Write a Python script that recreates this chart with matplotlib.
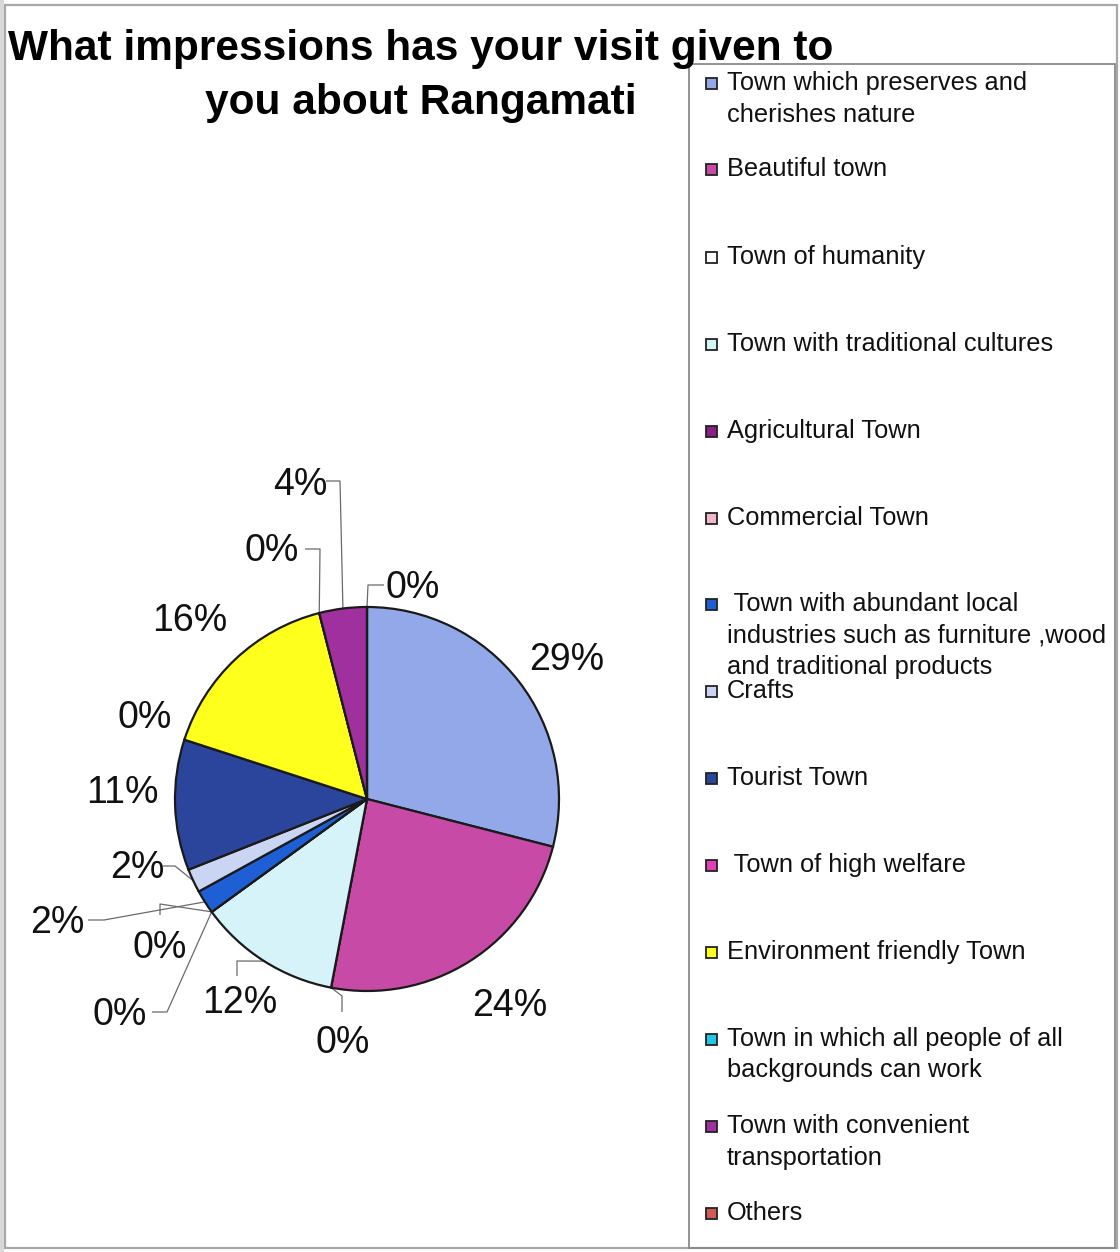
import numpy as np
import matplotlib
matplotlib.use("Agg")
import matplotlib.pyplot as plt
from matplotlib.patches import Rectangle

plt.rcParams['font.family'] = ['Liberation Sans', 'DejaVu Sans']

# ---- data ----
categories = [
    "Town which preserves and\ncherishes nature",
    "Beautiful town",
    "Town of humanity",
    "Town with traditional cultures",
    "Agricultural Town",
    "Commercial Town",
    " Town with abundant local\nindustries such as furniture ,wood\nand traditional products",
    "Crafts",
    "Tourist Town",
    " Town of high welfare",
    "Environment friendly Town",
    "Town in which all people of all\nbackgrounds can work",
    "Town with convenient\ntransportation",
    "Others",
]
shares = [29, 24, 0, 12, 0, 0, 2, 2, 11, 0, 16, 0, 4, 0]
colors = ["#92A8E8", "#C64AA6", "#FFFFFF", "#D5F3F8", "#8A1F84", "#F4B6C8",
          "#1F5FD6", "#C9D5F2", "#2B459C", "#E03FB5", "#FFFF1E", "#24C6E8",
          "#A0309E", "#CF5A5A"]
title_lines = ["What impressions has your visit given to", "you about Rangamati"]

# ---- layout (figure pixels, y measured from top) ----
W, H = 1120, 1252
CX, CY, R = 367, 799, 192
label_pos = [(567, 657), (510, 1003), (343, 1040), (240, 1000), (120, 1012),
             (160, 945), (57, 920), (137, 865), (122, 790), (145, 715),
             (190, 618), (272, 548), (300, 482), (413, 585)]
# leader lines: label anchor -> elbow -> wedge rim
leaders = {
    2: [(342, 1012), (342, 996)],
    3: [(237, 976), (237, 961)],
    4: [(152, 1012), (167, 1012)],
    5: [(160, 915), (160, 904)],
    6: [(88, 920), (104, 920)],
    7: [(163, 866), (175, 866)],
    11: [(305, 549), (320, 549)],
    12: [(326, 481), (340, 481)],
    13: [(384, 585), (368, 585)],
}
legend_y = [81, 167, 255, 342, 429, 516, 602, 689, 776, 863, 950, 1037, 1124, 1211]
legend_line_gap = 31.5

fig = plt.figure(figsize=(W / 100, H / 100), dpi=100)
fig.patch.set_facecolor("white")

# overlay axes in pixel units for frames, title and legend
ov = fig.add_axes([0, 0, 1, 1])
ov.set_xlim(0, W)
ov.set_ylim(H, 0)
ov.axis("off")

# outer chart frame and legend box
ov.add_patch(Rectangle((5, 5), 1112, 1243, fill=False, edgecolor="#a8a8a8", lw=1.6, zorder=1))
ov.add_patch(Rectangle((0, 0), 4, H, color="#d8d8d8", lw=0, zorder=1))
ov.add_patch(Rectangle((689, 64), 426, 1184, fill=False, edgecolor="#8a8a8a", lw=1.3, zorder=1))

# title
for i, line in enumerate(title_lines):
    ov.text(421, 60 + i * 54, line, fontsize=30.5, fontweight="bold",
            ha="center", va="baseline", color="black", zorder=5)

# legend
for i, (name, col) in enumerate(zip(categories, colors)):
    yc = legend_y[i]
    ov.add_patch(Rectangle((705.5, yc - 3.5), 11, 11, facecolor=col,
                           edgecolor="#222222", lw=1.3, zorder=3))
    for j, line in enumerate(name.split("\n")):
        ov.text(727, yc + 9 + j * legend_line_gap, line, fontsize=18.3,
                ha="left", va="baseline", color="#111111", zorder=4)

# pie axes, unit radius
half = 300
ax = fig.add_axes([(CX - half) / W, (H - CY - half) / H, 2 * half / W, 2 * half / H])
ax.pie(shares, colors=colors, startangle=90, counterclock=False, radius=1.0,
       wedgeprops=dict(edgecolor="#1a1a1a", linewidth=1.6))
lim = half / R
ax.set_xlim(-lim, lim)
ax.set_ylim(-lim, lim)
ax.set_aspect("equal")
ax.axis("off")


def px2u(p):
    return ((p[0] - CX) / R, (CY - p[1]) / R)


cum = np.cumsum([0] + shares[:-1])
for i, v in enumerate(shares):
    mid = np.deg2rad(90 - 360 * (cum[i] + v / 2) / 100)
    rim = (np.cos(mid), np.sin(mid))
    lx, ly = px2u(label_pos[i])
    ax.text(lx, ly - 13 / R, f"{v}%", fontsize=27, ha="center", va="baseline",
            color="#111111", clip_on=False)
    if i in leaders:
        pts = [px2u(p) for p in leaders[i]] + [rim]
        xs, ys = zip(*pts)
        ax.plot(xs, ys, color="#6a6a6a", lw=0.9, solid_capstyle="butt",
                zorder=0.5, clip_on=False)

fig.savefig("out.png", dpi=100, facecolor="white")
